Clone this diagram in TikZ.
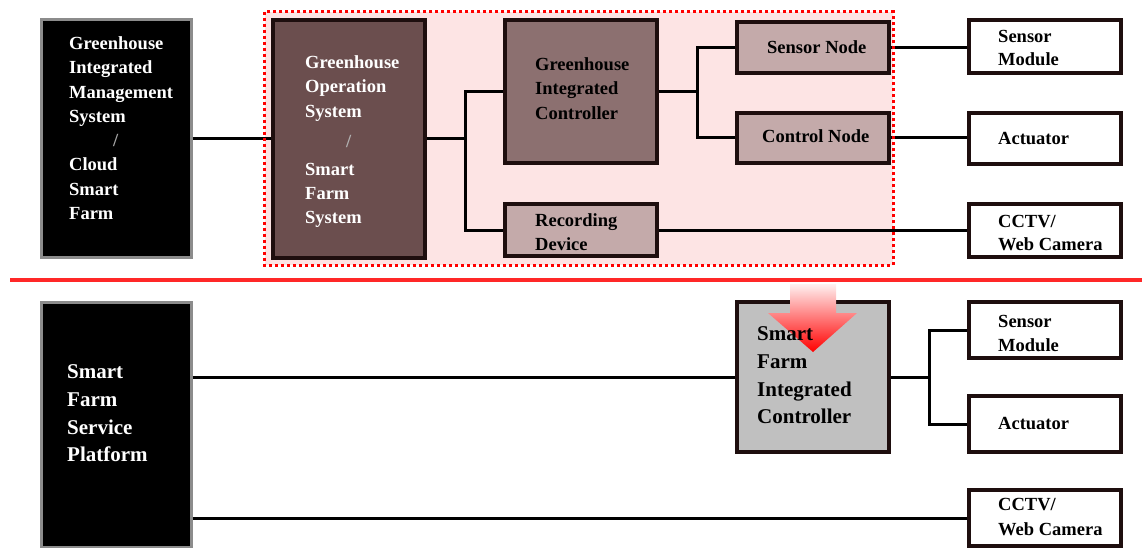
\documentclass[tikz,border=0pt]{standalone}
\usepackage{fontspec}
\setmainfont{Liberation Serif}
\definecolor{zonepink}{RGB}{253,228,228}
\definecolor{gosfill}{RGB}{107,78,78}
\definecolor{gicfill}{RGB}{140,112,112}
\definecolor{smallfill}{RGB}{196,170,170}
\definecolor{sficfill}{RGB}{192,192,192}
\definecolor{edgedark}{RGB}{30,14,14}
\definecolor{linered}{RGB}{255,40,40}
\begin{document}
\begin{tikzpicture}[x=1pt,y=-1pt,
  blk/.style={fill=black, draw=gray!90, line width=3pt, inner sep=0pt},
  brd/.style={draw=edgedark, line width=3.2pt, inner sep=0pt},
  conn/.style={line width=3pt, black},
  txt/.style={anchor=north west, inner sep=0pt, align=left, font=\bfseries\fontsize{18.5}{24.3}\selectfont},
  txtw/.style={txt, text=white},
  txtl/.style={anchor=north west, inner sep=0pt, align=left, font=\bfseries\fontsize{21}{27.7}\selectfont},
]
\useasboundingbox (0,0) rectangle (1142,548);

% dotted zone (fill)
\node[fill=zonepink, inner sep=0pt, minimum width=628, minimum height=253] (zone) at (579,138.5) {};

% boxes
\node[blk, minimum width=150, minimum height=237] (hb1) at (116,138.5) {};
\node[brd, fill=gosfill, minimum width=152, minimum height=238] (gos) at (349,139) {};
\node[brd, fill=gicfill, minimum width=152, minimum height=143] (gic) at (581,91.5) {};
\node[brd, fill=smallfill, minimum width=152, minimum height=51] (sn) at (813,47.5) {};
\node[brd, fill=smallfill, minimum width=152, minimum height=50] (cn) at (813,138) {};
\node[brd, fill=smallfill, minimum width=152, minimum height=52] (rd) at (581,230) {};
\node[brd, fill=white, minimum width=152, minimum height=53] (sm1) at (1045,46.5) {};
\node[brd, fill=white, minimum width=152, minimum height=51] (act1) at (1045,138.5) {};
\node[brd, fill=white, minimum width=152, minimum height=53] (cc1) at (1045,230.5) {};

\node[blk, minimum width=150, minimum height=245] (hb2) at (116,424.5) {};
\node[brd, fill=sficfill, minimum width=152, minimum height=150] (sfic) at (813,377) {};
\node[brd, fill=white, minimum width=152, minimum height=56] (sm2) at (1045,330) {};
\node[brd, fill=white, minimum width=152, minimum height=56] (act2) at (1045,424) {};
\node[brd, fill=white, minimum width=152, minimum height=56] (cc2) at (1045,518) {};

% bus points
\coordinate (b1) at (465,139);
\coordinate (b2) at (697,91.5);
\coordinate (b3) at (929,377);

% connectors
\draw[conn] (hb1.east |- gos.west) -- (gos.west);
\draw[conn] (gos.east) -- (b1);
\draw[conn] (gic.west) -| (b1);
\draw[conn] (rd.west) -| (b1);
\draw[conn] (gic.east) -- (b2);
\draw[conn] (sn.west) -| (b2);
\draw[conn] (cn.west) -| (b2);
\draw[conn] (sn.east) -- (sn.east -| sm1.west);
\draw[conn] (cn.east) -- (cn.east -| act1.west);
\draw[conn] (rd.east) -- (rd.east -| cc1.west);

\draw[conn] (sfic.west -| hb2.east) -- (sfic.west);
\draw[conn] (sfic.east) -- (b3);
\draw[conn] (sm2.west) -| (b3);
\draw[conn] (act2.west) -| (b3);
\draw[conn] (cc2.west -| hb2.east) -- (cc2.west);

% dotted border on top
\draw[red, line width=3pt, dash pattern=on 3pt off 3pt] (zone.north west) rectangle (zone.south east);

% red separator
\coordinate (rl) at (10,280);
\coordinate (rr) at (1142,280);
\draw[linered, line width=3.5pt] (rl) -- (rr);

% gradient arrow
\shade[top color=red!6, bottom color=red] (790,284) -- (836,284) -- (836,313) -- (857,313) -- (813,352) -- (768,313) -- (790,313) -- cycle;

% texts
\node[txtw] (thb1) at (69,36.4) {Greenhouse\\Integrated\\Management\\System\\\hspace*{44pt}{\color{gray!70}/}\\Cloud\\Smart\\Farm};
\node[txtw] (tgos) at (305,55.4) {Greenhouse\\Operation\\System\\[5.7pt]\hspace*{41pt}{\color{gray!60}/}\\[3.7pt]Smart\\Farm\\System};
\node[txt] (tgic) at (535,57.4) {Greenhouse\\Integrated\\Controller};
\node[txt] (tsn) at (767,40.4) {Sensor Node};
\node[txt] (tcn) at (762,129.4) {Control Node};
\node[txt] (trd) at (535,213.4) {Recording\\Device};
\node[txt, font=\bfseries\fontsize{18.5}{23}\selectfont] (tsm1) at (998,30.4) {Sensor\\Module};
\node[txt] (tact1) at (998,132.4) {Actuator};
\node[txt, font=\bfseries\fontsize{18.5}{22.5}\selectfont] (tcc1) at (998,215.4) {CCTV/\\Web Camera};

\node[txtl, text=white] (thb2) at (67,364.5) {Smart\\Farm\\Service\\Platform};
\node[txtl] (tsfic) at (757,326.5) {Smart\\Farm\\Integrated\\Controller};
\node[txt, font=\bfseries\fontsize{18.5}{24}\selectfont] (tsm2) at (998,315.4) {Sensor\\Module};
\node[txt] (tact2) at (998,417.4) {Actuator};
\node[txt, font=\bfseries\fontsize{18.5}{25}\selectfont] (tcc2) at (998,498.4) {CCTV/\\Web Camera};
\end{tikzpicture}
\end{document}
